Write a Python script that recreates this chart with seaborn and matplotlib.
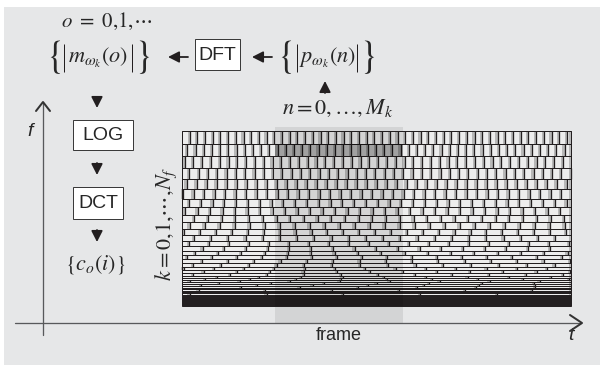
import matplotlib
matplotlib.use("Agg")
import matplotlib.pyplot as plt
from matplotlib.patches import Rectangle
import seaborn as sns

sns.set_theme(style="white")
plt.rcParams['mathtext.fontset'] = 'stix'
plt.rcParams['font.family'] = ['Liberation Sans', 'DejaVu Sans']

# time-frequency tiling: band height and window length per band (top = high f)
bandwidth = [12.7, 12.7, 11.6, 11.0, 10.0, 9.7, 8.5, 8.0, 7.3, 6.7,
             6.3, 5.8, 5.0, 4.6, 4.3, 4.0, 3.8, 3.6, 3.3, 3.0,
             2.7, 2.4, 2.2, 2.0, 1.9, 1.8, 1.7, 1.6, 1.5, 1.4,
             1.4, 1.3, 1.3, 1.1, 1.1, 1.0, 1.0, 1.0, 1.0, 1.0,
             1.0, 1.0, 1.0]
window = [7.7, 8.2, 8.8, 9.3, 10.0, 10.5, 11.8, 12.5, 13.7, 15.0,
          15.9, 17.2, 20.0, 21.7, 23.3, 25.0, 26.3, 27.8, 30.3, 33.3,
          37.0, 41.7, 45.5, 50.0, 52.6, 55.6, 58.8, 62.5, 66.7, 71.4,
          71.4, 76.9, 76.9, 90.0, 90.0, 100.0, 100.0, 110.0, 110.0, 120.0,
          120.0, 130.0, 130.0]
phase = [0.0, 0.35, 0.7, 0.2, 0.55, 0.9, 0.4, 0.75, 0.1, 0.5,
         0.85, 0.3, 0.65, 0.05, 0.45, 0.8, 0.25, 0.6, 0.95, 0.35,
         0.7, 0.15, 0.5, 0.85, 0.3, 0.65, 0.0, 0.4, 0.75, 0.2,
         0.55, 0.9, 0.3, 0.6, 0.1, 0.45, 0.8, 0.2, 0.5, 0.85,
         0.3, 0.65, 0.0]
frame_row = 1

ink = '#231f20'
px = 0.72  # one pixel in points at 100 dpi

fig = plt.figure(figsize=(6.0, 3.65), dpi=100)
fig.patch.set_facecolor('white')
ax = fig.add_axes([0, 0, 1, 1])
ax.set_xlim(0, 600)
ax.set_ylim(365, 0)
ax.axis('off')

ax.add_patch(Rectangle((4, 7), 596, 358, color='#e6e7e8', lw=0, zorder=0))

# frame column
fx0, fx1 = 275, 403
ax.add_patch(Rectangle((fx0, 127), fx1 - fx0, 196, color='#d3d4d5', lw=0, zorder=1))

x0, x1, y0 = 182, 571, 131
y = y0
row_top = []
for h, w, p in zip(bandwidth, window, phase):
    row_top.append(y)
    edges = []
    e = x0 - p * w
    while e < x1:
        if e > x0 + 0.5:
            edges.append(e)
        e += w
    bounds = [x0] + edges + [x1]
    cells = [(a, b - a) for a, b in zip(bounds[:-1], bounds[1:])]
    ax.broken_barh(cells, (y, h), facecolors='#ededed', lw=0, zorder=2)
    sh = min(2.2, 0.3 * w)
    ax.broken_barh([(b - sh, sh) for b in edges + [x1]], (y, h),
                   facecolors='#b8b8b8', lw=0, zorder=3)
    ax.vlines(edges, y, y + h, colors=ink, lw=1.3 * px, zorder=4)
    ax.hlines(y, x0, x1, colors=ink, lw=1.0 * px, zorder=4)
    y += h
y_end = y

ax.add_patch(Rectangle((fx0, y0), fx1 - fx0, y_end - y0, color='black',
                       alpha=0.1, lw=0, zorder=5))
ax.add_patch(Rectangle((fx0, row_top[frame_row]), fx1 - fx0, bandwidth[frame_row],
                       color='black', alpha=0.24, lw=0, zorder=5))
ax.add_patch(Rectangle((x0, y0), x1 - x0, y_end - y0, fill=False, ec=ink,
                       lw=1.0 * px, zorder=6))

# axes
axc = '#58595b'
ax.plot([43, 43], [103, 335], color=axc, lw=1.3 * px, zorder=6)
ax.plot([36, 43, 50], [111, 102, 111], color='#333333', lw=2.0 * px, zorder=6)
ax.plot([15, 581], [323, 323], color=axc, lw=1.3 * px, zorder=6)
ax.plot([570, 582, 570], [315, 323, 331], color='#333333', lw=2.0 * px, zorder=6)
ax.text(30, 132, 'f', style='italic', fontsize=14, ha='center', va='center')
ax.text(571, 336, 't', style='italic', fontsize=14, ha='center', va='center')
ax.text(339, 335, 'frame', fontsize=13, ha='center', va='center')

# processing chain
for bx, by, bw, bh, lab in [(195, 39, 45, 31, 'DFT'), (73, 120, 60, 30, 'LOG'),
                            (73, 187, 50, 32, 'DCT')]:
    ax.add_patch(Rectangle((bx, by), bw, bh, fc='white', ec='#3a3a3a',
                           lw=1.0 * px, zorder=6))
    ax.text(bx + bw / 2, by + bh / 2 + 1, lab, fontsize=14, ha='center',
            va='center', zorder=7)

arrow = dict(arrowstyle='-|>,head_length=0.55,head_width=0.28', color=ink,
             lw=1.3, shrinkA=0, shrinkB=0)
for tail, head in [((188, 57), (168, 57)), ((272, 57), (252, 57)),
                   ((97, 97), (97, 108)), ((97, 163), (97, 175)),
                   ((97, 230), (97, 242)), ((325, 93), (325, 81))]:
    ax.annotate('', xy=head, xytext=tail, arrowprops=arrow, zorder=7)


def magnitude_set(expr, cx, lb, rb, lbar, rbar, cy=58):
    ax.text(cx, cy, expr, fontsize=16, ha='center', va='center')
    ax.text(lb, cy - 1, r'$\{$', fontsize=27, ha='center', va='center')
    ax.text(rb, cy - 1, r'$\}$', fontsize=27, ha='center', va='center')
    ax.vlines([lbar, rbar], cy - 14, cy + 14, colors=ink, lw=1.0 * px)


magnitude_set(r'$m_{\omega_k}(o)$', 98, 54, 142, 64, 132)
magnitude_set(r'$p_{\omega_k}(n)$', 327, 285, 367, 297, 357)

ax.text(107, 21, r'$o\ =\ 0{,}1{,}\cdots$', fontsize=15, ha='center', va='center')
ax.text(338, 108, r'$n=0,\ldots,M_k$', fontsize=16, ha='center', va='center')
ax.text(95, 264, r'$\{c_o(i)\}$', fontsize=16, ha='center', va='center')
ax.text(166, 224, r'$k=0{,}1{,}\cdots{,}N_f$', fontsize=16, rotation=90,
        ha='center', va='center')

fig.savefig('out.png', dpi=100)
